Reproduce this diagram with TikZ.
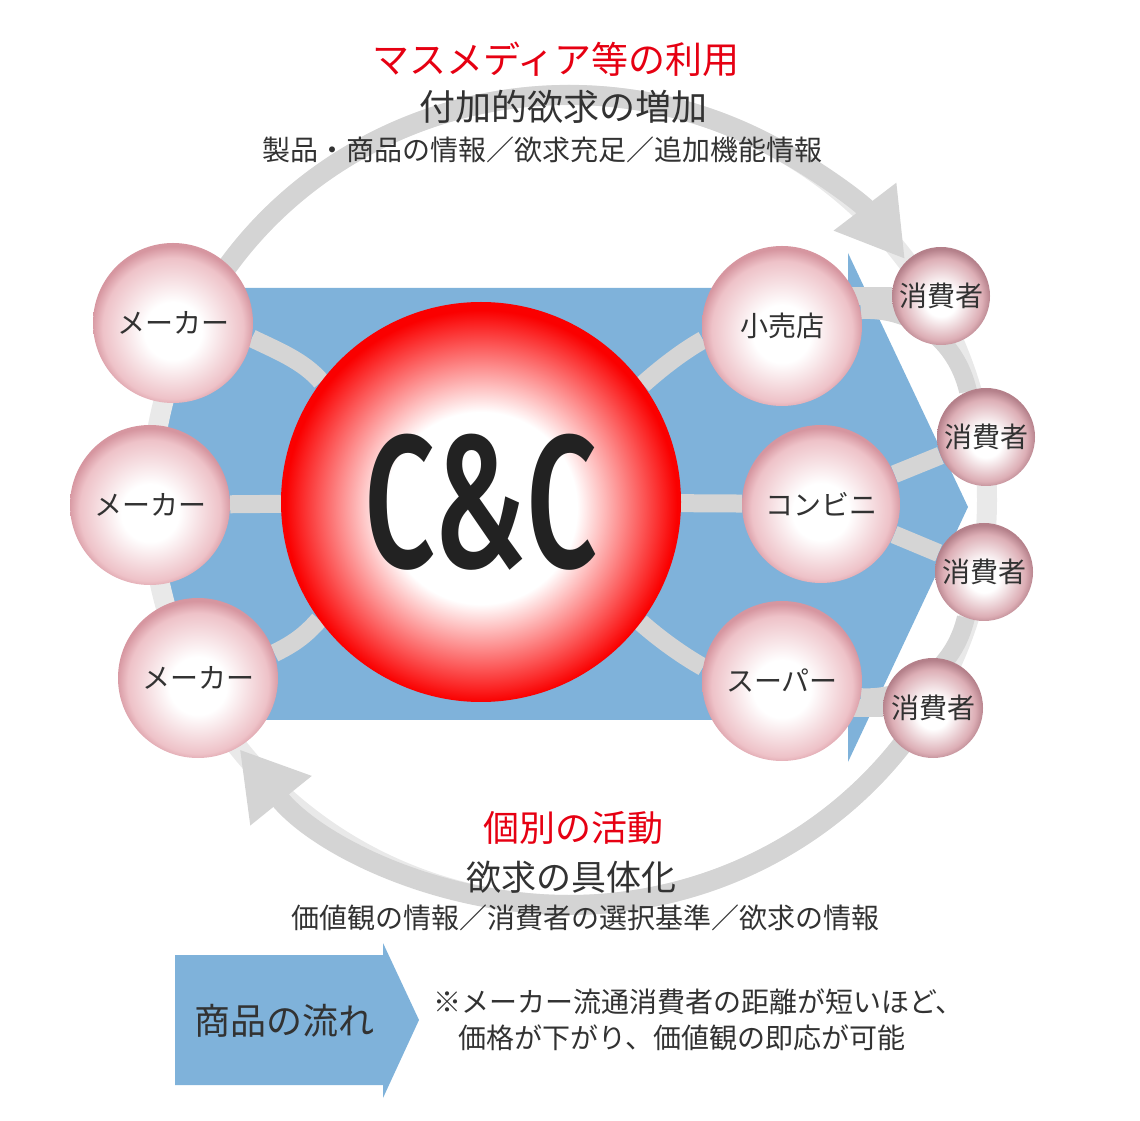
\documentclass[tikz,border=0pt]{standalone}
\usepackage{fontspec}
\setmainfont{Noto Sans CJK JP}
\newfontfamily\ccfont{Fira Sans Medium}[FakeStretch=0.66]
\usetikzlibrary{arrows.meta}

\definecolor{flowblue}{RGB}{127,178,218}
\definecolor{ringgray}{RGB}{212,212,212}
\definecolor{ringlight}{RGB}{233,233,233}
\definecolor{linkgray}{RGB}{213,213,213}
\definecolor{textgray}{RGB}{50,50,50}
\definecolor{titlered}{RGB}{230,0,18}
\definecolor{ballpink}{RGB}{238,194,200}
\definecolor{ballrim}{RGB}{214,150,160}
\definecolor{buyerrim}{RGB}{180,128,138}
\definecolor{ccred}{RGB}{250,0,0}

\pgfdeclareradialshading{pinkball}{\pgfpoint{0bp}{-3bp}}{color(0bp)=(white); color(9bp)=(white); color(22bp)=(ballpink); color(25.5bp)=(ballrim); color(50bp)=(ballrim)}
\pgfdeclareradialshading{buyerball}{\pgfpoint{0bp}{-3bp}}{color(0bp)=(white); color(8bp)=(white); color(21bp)=(ballpink!70!buyerrim); color(25.5bp)=(buyerrim); color(50bp)=(buyerrim)}
\pgfdeclareradialshading{redball}{\pgfpoint{0bp}{-1bp}}{color(0bp)=(white); color(12bp)=(white); color(24.5bp)=(ccred); color(50bp)=(ccred)}

\pgfdeclarelayer{base}
\pgfdeclarelayer{links}
\pgfsetlayers{base,links,main}

\begin{document}
\begin{tikzpicture}[x=1pt, y=1pt, >={Triangle[length=66pt,width=74pt]}]
    \tikzset{
        ball/.style={circle, inner sep=0pt, minimum size=160pt, shading=pinkball, text=textgray, font=\fontsize{28}{30}\selectfont},
        buyer/.style={ball, minimum size=98pt, shading=buyerball},
        link/.style={linkgray, line width=18pt},
        ring/.style={ringgray, line width=20pt},
        caption/.style={text=textgray, inner sep=0pt}
    }
    \useasboundingbox (0,0) rectangle (1140,1120);

    % makers, C&C, shops, consumers
    \node[ball] (mk1) at (173,797) {メーカー};
    \node[ball] (mk2) at (150,615) {メーカー};
    \node[ball] (mk3) at (198,442) {メーカー};
    \node[circle, inner sep=0pt, minimum size=400pt, shading=redball, text={rgb,255:red,34;green,34;blue,34},
          font=\ccfont\fontsize{189}{190}\selectfont] (cc) at (481,618) {C\&C};
    \node[ball] (shop) at (782,794) {小売店};
    \node[ball, minimum size=158pt] (conv) at (821,616) {コンビニ};
    \node[ball] (super) at (782,439) {スーパー};
    \node[buyer] (cs1) at (941,824) {消費者};
    \node[buyer] (cs2) at (986,683) {消費者};
    \node[buyer] (cs3) at (984,548) {消費者};
    \node[buyer, minimum size=100pt] (cs4) at (933,412) {消費者};

    \begin{pgfonlayer}{base}
        % flow of goods
        \fill[flowblue] (168,832) -- (848,832) -- (848,867) -- (968,613) -- (848,358) -- (848,400) -- (168,400) -- cycle;
        % outer cycle
        \draw[ringlight, line width=20pt] (569,620) ellipse [x radius=418pt, y radius=405pt];
        \draw[ring, ->] (569,620) ++(155:418pt and 405pt) arc [start angle=155, end angle=36.5, x radius=418pt, y radius=405pt];
        \draw[ring, ->] (569,620) ++(-31:418pt and 405pt) arc [start angle=-31, end angle=-142, x radius=418pt, y radius=405pt];
    \end{pgfonlayer}

    \begin{pgfonlayer}{links}
        \draw[link] (mk1.-11) .. controls +(-26:28) and +(131:28) .. (cc.143);
        \draw[link] (mk2) -- (cc);
        \draw[link] (mk3.18) .. controls +(26:21) and +(-131:21) .. (cc.-144);
        \draw[link] (cc.36) .. controls +(42:23) and +(209:23) .. (shop.190);
        \draw[link] (cc) -- (conv);
        \draw[link] (cc.-37) .. controls +(-42:23) and +(151:23) .. (super.170);
        \draw[link] (cs1) -- (cs1 -| shop);
        \draw[link] (shop) to[bend left=40] (cs2);
        \draw[link] (conv) -- (cs2);
        \draw[link] (conv) -- (cs3);
        \draw[link] (super) to[bend right=40] (cs3);
        \draw[link] (cs4) -- (cs4 -| super);
    \end{pgfonlayer}

    % captions
    \node[caption, text=titlered, font=\fontsize{37}{40}\selectfont] (media) at (556,1061) {マスメディア等の利用};
    \node[caption, font=\fontsize{36}{40}\selectfont] (added) at (563,1013) {付加的欲求の増加};
    \node[caption, font=\fontsize{28}{32}\selectfont] (addinfo) at (542,970) {製品・商品の情報／欲求充足／追加機能情報};
    \node[caption, text=titlered, font=\fontsize{36}{40}\selectfont] (indiv) at (573,292) {個別の活動};
    \node[caption, font=\fontsize{35}{40}\selectfont] (concrete) at (571,243) {欲求の具体化};
    \node[caption, font=\fontsize{28}{32}\selectfont] (valinfo) at (585,202) {価値観の情報／消費者の選択基準／欲求の情報};

    % legend
    \fill[flowblue] (175,165) -- (383,165) -- (383,177) -- (419,100) -- (383,22) -- (383,35) -- (175,35) -- cycle;
    \node[caption, font=\fontsize{36}{40}\selectfont] (flow) at (284,99) {商品の流れ};
    \node[caption, anchor=north west, align=left, font=\fontsize{28}{36}\selectfont] (note) at (433,131)
        {※メーカー流通消費者の距離が短いほど、\\\hspace*{0.9em}価格が下がり、価値観の即応が可能};
\end{tikzpicture}
\end{document}
